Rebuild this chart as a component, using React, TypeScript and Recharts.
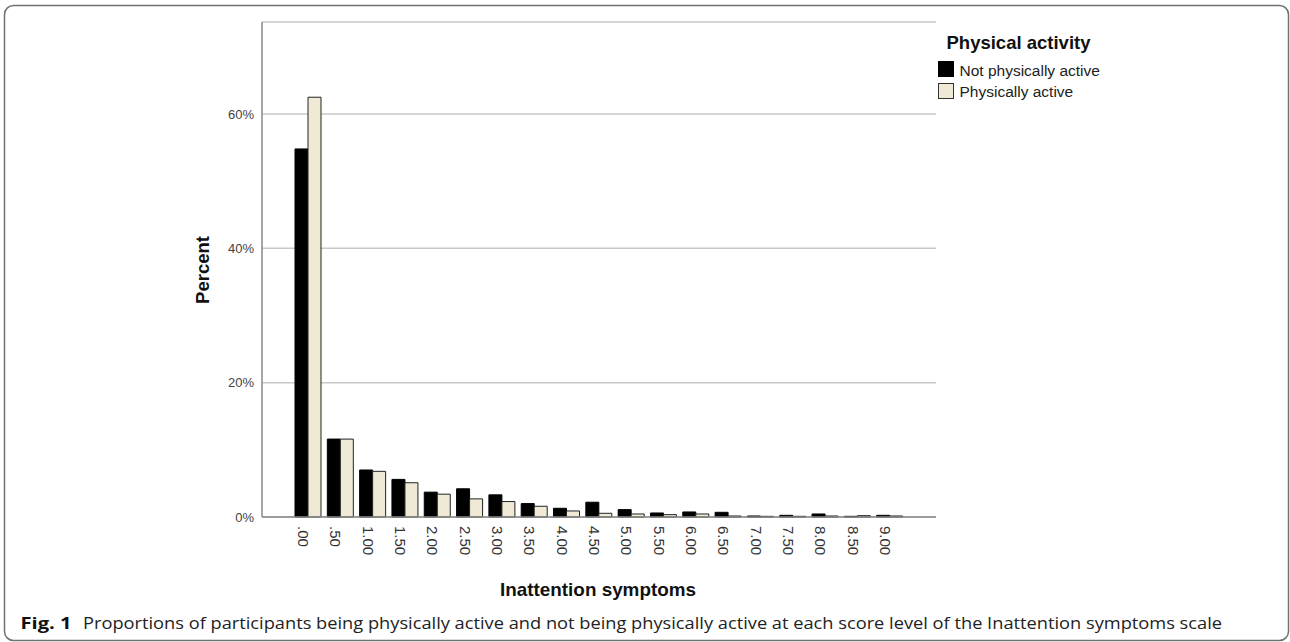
import React from 'react';
import { BarChart, Bar, XAxis, YAxis, CartesianGrid, Legend } from 'recharts';

const categories = ['.00', '.50', '1.00', '1.50', '2.00', '2.50', '3.00', '3.50', '4.00', '4.50', '5.00', '5.50', '6.00', '6.50', '7.00', '7.50', '8.00', '8.50', '9.00'];
const notActive = [54.8, 11.6, 7.0, 5.6, 3.7, 4.2, 3.3, 2.0, 1.3, 2.2, 1.1, 0.6, 0.75, 0.7, 0.15, 0.25, 0.45, 0.1, 0.25];
const active = [62.5, 11.6, 6.8, 5.1, 3.4, 2.7, 2.3, 1.6, 0.9, 0.55, 0.45, 0.35, 0.45, 0.15, 0.1, 0.1, 0.15, 0.2, 0.15];
const yTicks = [0, 20, 40, 60];
const seriesNames = ['Not physically active', 'Physically active'];
const legendTitle = 'Physical activity';

const data = categories.map((c, i) => ({ cat: c, notActive: notActive[i], active: active[i] }));

const FONT = '"Liberation Sans", Arial, sans-serif';
const BLACK = '#000000';
const CREAM = '#EFE9D5';

const XTick = (props: any) => {
  const { x, y, payload } = props;
  const xb = x - 10;
  const y0 = y + 9;
  return (
    <text x={xb} y={y0} transform={`rotate(90, ${xb}, ${y0})`} textAnchor="start" fontSize={15} fill="#333" fontFamily={FONT}>
      {payload.value}
    </text>
  );
};

const LegendContent = () => (
  <svg width={200} height={90} style={{ display: 'block' }}>
    <text x={16.5} y={28.5} fontSize={18.5} fontWeight="bold" fill="#111" fontFamily={FONT}>{legendTitle}</text>
    <rect x={8.5} y={41.5} width={15} height={15} fill={BLACK} stroke="#000" strokeWidth={1} />
    <text x={29.5} y={56} fontSize={15.5} fill="#222" fontFamily={FONT}>{seriesNames[0]}</text>
    <rect x={8.5} y={63.5} width={15} height={15} fill={CREAM} stroke="#333" strokeWidth={1} />
    <text x={29.5} y={76.5} fontSize={15.5} fill="#222" fontFamily={FONT}>{seriesNames[1]}</text>
  </svg>
);

export default function App() {
  return (
    <div style={{ position: 'absolute', left: 0, top: 0, width: 1290, height: 642, background: '#fff', overflow: 'hidden' }}>
      <div style={{ position: 'absolute', left: 0, top: 0 }}>
        <BarChart
          width={1290}
          height={642}
          data={data}
          margin={{ top: 22, right: 354, left: 202, bottom: 25 }}
          barGap={0}
          barSize={13}
        >
          <CartesianGrid vertical={false} stroke="#c8c8c8" strokeWidth={1.5} />
          <XAxis
            dataKey="cat"
            type="category"
            interval={0}
            height={100}
            padding={{ left: 30, right: 30 }}
            axisLine={{ stroke: '#888', strokeWidth: 1.5 }}
            tickLine={false}
            tickSize={0}
            tickMargin={0}
            tick={<XTick />}
          />
          <YAxis
            width={60}
            domain={[0, 73.7]}
            ticks={yTicks}
            tickFormatter={(v: number) => `${v}%`}
            axisLine={{ stroke: '#888', strokeWidth: 1.5 }}
            tickLine={false}
            tickSize={0}
            tickMargin={8}
            tick={{ fontSize: 13, fill: '#444', fontFamily: FONT }}
          />
          <Legend
            layout="vertical"
            align="center"
            verticalAlign="middle"
            content={<LegendContent />}
            wrapperStyle={{ left: 930, top: 20, width: 200, height: 90 }}
          />
          <Bar dataKey="notActive" name={seriesNames[0]} fill={BLACK} stroke="#000" strokeWidth={1} isAnimationActive={false} />
          <Bar dataKey="active" name={seriesNames[1]} fill={CREAM} stroke="#222" strokeWidth={1} isAnimationActive={false} />
        </BarChart>
      </div>
      <svg width={1290} height={642} style={{ position: 'absolute', left: 0, top: 0, pointerEvents: 'none' }}>
        <rect x={4.5} y={5.5} width={1284} height={635} rx={9} ry={9} fill="none" stroke="#707070" strokeWidth={1.5} />
        <text x={202.5} y={270} transform="rotate(-90, 202.5, 270)" textAnchor="middle" dominantBaseline="central" fontSize={18.5} fontWeight="bold" fill="#111" fontFamily={FONT}>Percent</text>
        <text x={598} y={596} textAnchor="middle" fontSize={18.5} fontWeight="bold" fill="#111" fontFamily={FONT} textLength={196} lengthAdjust="spacingAndGlyphs">Inattention symptoms</text>
        <text x={20.5} y={629} fontSize={15.5} fontWeight="bold" fill="#111" fontFamily='"Open Sans", "Noto Sans", sans-serif' textLength={51} lengthAdjust="spacingAndGlyphs">Fig. 1</text>
        <text x={83} y={629} fontSize={15.5} fill="#222" fontFamily='"Open Sans", "Noto Sans", sans-serif' textLength={1139} lengthAdjust="spacingAndGlyphs">Proportions of participants being physically active and not being physically active at each score level of the Inattention symptoms scale</text>
      </svg>
    </div>
  );
}
